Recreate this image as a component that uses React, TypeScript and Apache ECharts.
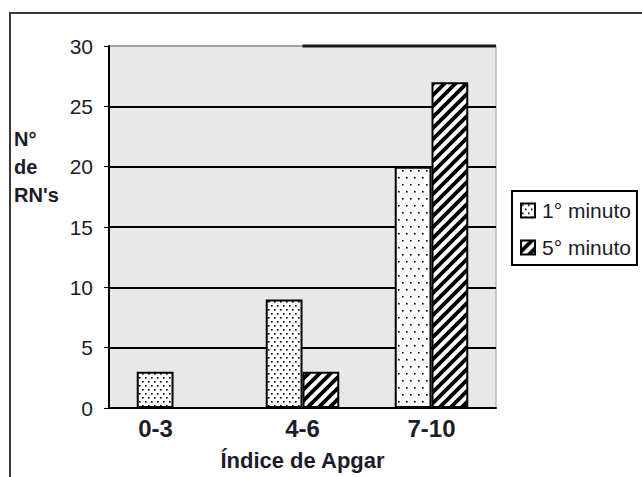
import React, { useEffect, useRef } from "react";
import * as echarts from "echarts";

const categories = ["0-3", "4-6", "7-10"];
const minuto1 = [3, 9, 20];
const minuto5 = [0, 3, 27];
const seriesNames = ["1° minuto", "5° minuto"];
const yTicks = { min: 0, max: 30, interval: 5 };
const xTitle = "Índice de Apgar";
const yTitle = "N°\nde\nRN's";

function dotTile(w: number, h: number, dots: [number, number][], size: number) {
  const c = document.createElement("canvas");
  c.width = w;
  c.height = h;
  const ctx = c.getContext("2d")!;
  ctx.fillStyle = "#ffffff";
  ctx.fillRect(0, 0, w, h);
  ctx.fillStyle = "#000000";
  dots.forEach(([x, y]) => ctx.fillRect(x, y, size, size));
  return c;
}

function hatchTile(p: number, lw: number) {
  const c = document.createElement("canvas");
  c.width = p;
  c.height = p;
  const ctx = c.getContext("2d")!;
  ctx.fillStyle = "#ffffff";
  ctx.fillRect(0, 0, p, p);
  ctx.strokeStyle = "#000000";
  ctx.lineWidth = lw;
  ctx.beginPath();
  ctx.moveTo(-2, p + 2);
  ctx.lineTo(p + 2, -2);
  ctx.moveTo(-2, 2);
  ctx.lineTo(2, -2);
  ctx.moveTo(p - 2, p + 2);
  ctx.lineTo(p + 2, p - 2);
  ctx.stroke();
  return c;
}

export default function App() {
  const ref = useRef<HTMLDivElement>(null);
  useEffect(() => {
    if (!ref.current) return;
    const chart = echarts.init(ref.current, null, { renderer: "svg" });
    const dense = { image: dotTile(6, 8, [[1, 1], [4, 5]], 1.6), repeat: "repeat" };
    const sparse = { image: dotTile(8, 14, [[2, 2], [6, 9]], 1.6), repeat: "repeat" };
    const hatch = { image: hatchTile(11, 3.8), repeat: "repeat" };
    const font = "Arial, 'Liberation Sans', sans-serif";
    const txt = "#1c1c2a";
    const topLineStart = categories.indexOf("4-6") + 0.5;

    chart.setOption({
      animation: false,
      backgroundColor: "#ffffff",
      textStyle: { fontFamily: font },
      graphic: [
        {
          type: "rect",
          shape: { x: 10, y: 13, width: 700, height: 520 },
          style: { fill: "none", stroke: "#3a3a3a", lineWidth: 2 },
          silent: true,
          z: -1,
        },
        {
          type: "text",
          left: 14,
          top: 125,
          style: {
            text: yTitle,
            font: `bold 20px ${font}`,
            fill: txt,
            lineHeight: 28,
          },
        },
      ],
      legend: {
        orient: "vertical",
        left: 512,
        top: 191,
        data: seriesNames,
        backgroundColor: "#ffffff",
        borderColor: "#000000",
        borderWidth: 2,
        padding: [9, 6, 7, 8],
        itemGap: 16,
        itemWidth: 14,
        itemHeight: 14,
        icon: "rect",
        selectedMode: false,
        textStyle: { fontSize: 21, color: txt, padding: [0, 0, 0, 2] },
      },
      grid: { left: 109, right: 146, top: 46, bottom: 69, show: true, backgroundColor: "#e8e8e8", borderColor: "#a0a0a0", borderWidth: 1 },
      xAxis: [
        {
          type: "category",
          data: categories,
          name: xTitle,
          nameLocation: "middle",
          nameGap: 52,
          nameTextStyle: { fontSize: 22, fontWeight: "bold", color: txt, verticalAlign: "middle" },
          axisLine: { lineStyle: { color: "#000", width: 2 } },
          axisTick: { show: false },
          axisLabel: {
            fontSize: 24,
            fontWeight: "bold",
            color: txt,
            margin: 8,
            formatter: (v: string, i: number) => (i === 0 ? `{s|${v}}` : v),
            rich: { s: { fontSize: 24, fontWeight: "bold", color: txt, padding: [0, 36, 0, 0] } },
          },
        },
        { type: "value", min: 0, max: categories.length, show: false },
      ],
      yAxis: {
        type: "value",
        min: yTicks.min,
        max: yTicks.max,
        interval: yTicks.interval,
        axisLine: { show: true, lineStyle: { color: "#000", width: 2 } },
        axisTick: { show: true, length: 5, lineStyle: { color: "#000", width: 1 } },
        axisLabel: { fontSize: 21, color: txt, margin: 16 },
        splitLine: {
          lineStyle: {
            color: ["#000", "#000", "#000", "#000", "#000", "#000", "#a0a0a0"],
            width: 2,
          },
        },
      },
      series: [
        {
          name: seriesNames[0],
          type: "bar",
          data: minuto1.map((v, i) => ({ value: v, itemStyle: { color: i === 2 ? sparse : dense } })),
          itemStyle: { color: dense, borderColor: "#000", borderWidth: 2 },
          barGap: "0%",
          barCategoryGap: "43%",
        },
        {
          name: seriesNames[1],
          type: "bar",
          data: minuto5,
          itemStyle: { color: hatch, borderColor: "#000", borderWidth: 2 },
          barGap: "0%",
          barCategoryGap: "43%",
        },
        {
          name: "topline",
          type: "line",
          xAxisIndex: 1,
          data: [
            [topLineStart, yTicks.max],
            [categories.length, yTicks.max],
          ],
          symbol: "none",
          clip: false,
          silent: true,
          lineStyle: { color: "#1a1a1a", width: 3 },
          z: 5,
        },
      ],
    });
    return () => chart.dispose();
  }, []);
  return <div ref={ref} style={{ position: "fixed", left: 0, top: 0, width: 642, height: 477 }} />;
}
